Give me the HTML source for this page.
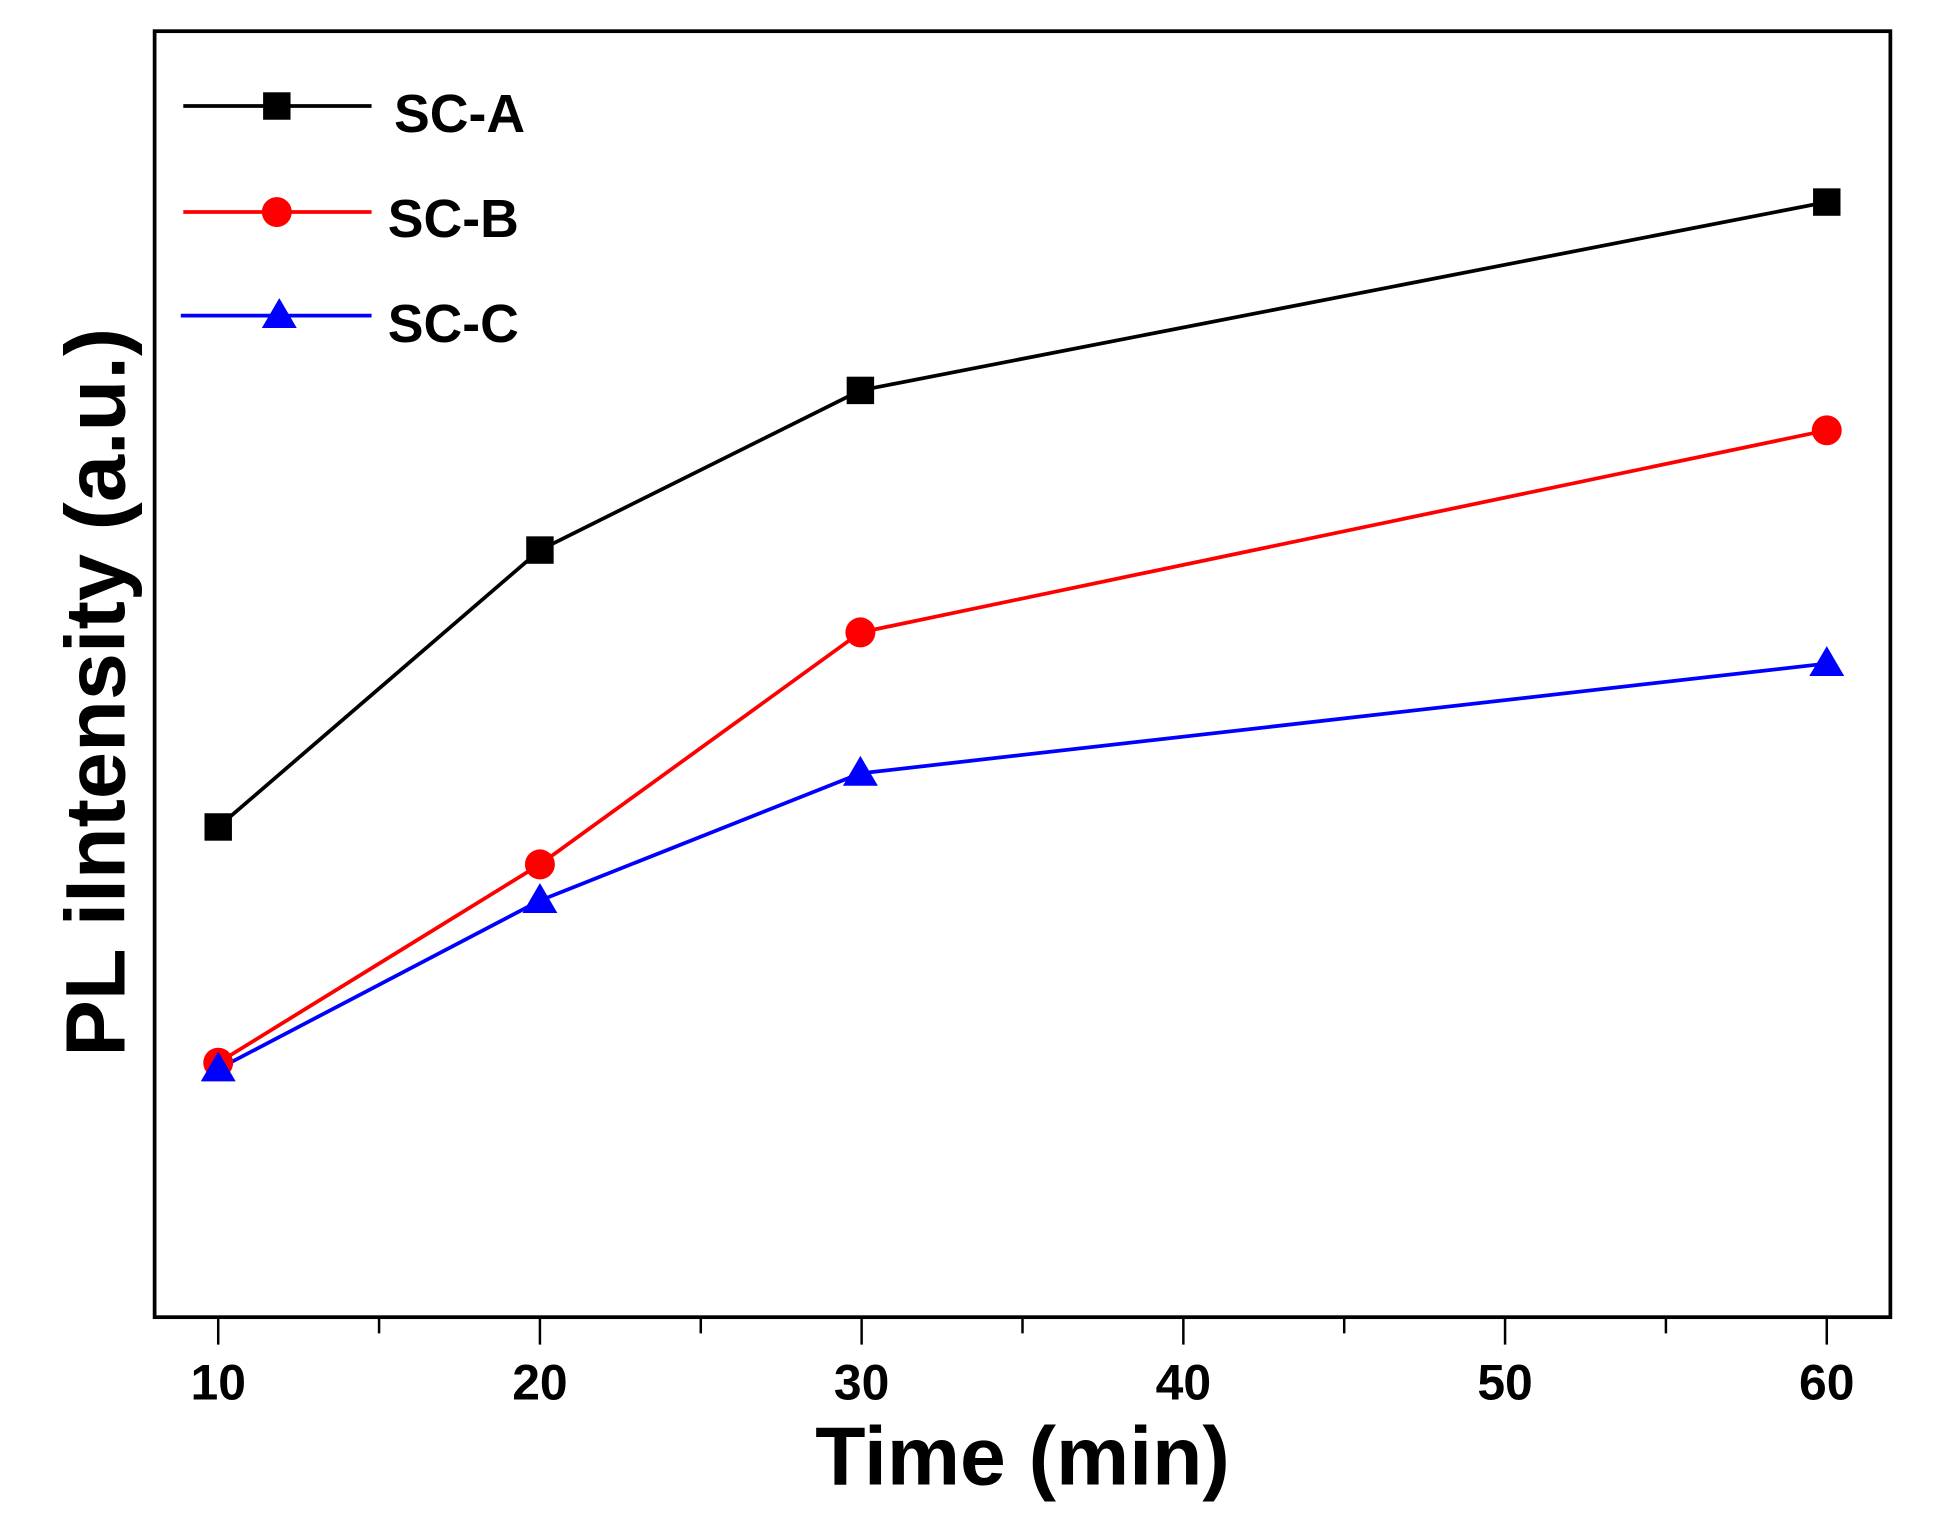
<!DOCTYPE html>
<html><head><style>html,body{margin:0;padding:0;background:#fff}svg{display:block}</style></head>
<body>
<svg width="1939" height="1513" viewBox="0 0 1555 1213" preserveAspectRatio="none" xmlns="http://www.w3.org/2000/svg" font-family="Liberation Sans, Arial, sans-serif" font-weight="bold">
<rect x="124" y="25" width="1392" height="1031" fill="none" stroke="#000" stroke-width="3"/>
<g stroke="#000" stroke-width="2">
<line x1="175" y1="1056" x2="175" y2="1078"/><line x1="304" y1="1056" x2="304" y2="1069"/>
<line x1="433" y1="1056" x2="433" y2="1078"/><line x1="562" y1="1056" x2="562" y2="1069"/>
<line x1="691" y1="1056" x2="691" y2="1078"/><line x1="820" y1="1056" x2="820" y2="1069"/>
<line x1="949" y1="1056" x2="949" y2="1078"/><line x1="1078" y1="1056" x2="1078" y2="1069"/>
<line x1="1207" y1="1056" x2="1207" y2="1078"/><line x1="1336" y1="1056" x2="1336" y2="1069"/>
<line x1="1465" y1="1056" x2="1465" y2="1078"/>
</g>
<g font-size="40" text-anchor="middle">
<text x="175" y="1122">10</text><text x="433" y="1122">20</text><text x="691" y="1122">30</text>
<text x="949" y="1122">40</text><text x="1207" y="1122">50</text><text x="1465" y="1122">60</text>
</g>
<text x="820" y="1190" font-size="66" text-anchor="middle">Time (min)</text>
<text transform="translate(100,555) rotate(-90)" font-size="68" text-anchor="middle">PL iIntensity (a.u.)</text>
<polyline points="175,663 433,441 690,313 1465,162" fill="none" stroke="#000" stroke-width="3"/>
<polyline points="175,852 433,693 690,507 1465,345" fill="none" stroke="#f00" stroke-width="3"/>
<polyline points="175,857 433,722 690,620 1465,532" fill="none" stroke="#00f" stroke-width="3"/>
<g fill="#000"><rect x="164" y="652" width="22" height="22"/><rect x="422" y="430" width="22" height="22"/><rect x="679" y="302" width="22" height="22"/><rect x="1454" y="151" width="22" height="22"/></g>
<g fill="#f00"><circle cx="175" cy="852" r="12"/><circle cx="433" cy="693" r="12"/><circle cx="690" cy="507" r="12"/><circle cx="1465" cy="345" r="12"/></g>
<g fill="#00f"><polygon points="175,843 161,867 189,867"/><polygon points="433,708 419,732 447,732"/><polygon points="690,606 676,630 704,630"/><polygon points="1465,518 1451,542 1479,542"/></g>
<line x1="147" y1="85" x2="298" y2="85" stroke="#000" stroke-width="3"/><rect x="211" y="74" width="22" height="22" fill="#000"/>
<line x1="147" y1="170" x2="298" y2="170" stroke="#f00" stroke-width="3"/><circle cx="222" cy="170" r="12" fill="#f00"/>
<line x1="145" y1="253" x2="298" y2="253" stroke="#00f" stroke-width="3"/><polygon points="224,239 210,263 238,263" fill="#00f"/>
<g font-size="43"><text x="316" y="106">SC-A</text><text x="311" y="190">SC-B</text><text x="311" y="274">SC-C</text></g>
</svg>
</body></html>
